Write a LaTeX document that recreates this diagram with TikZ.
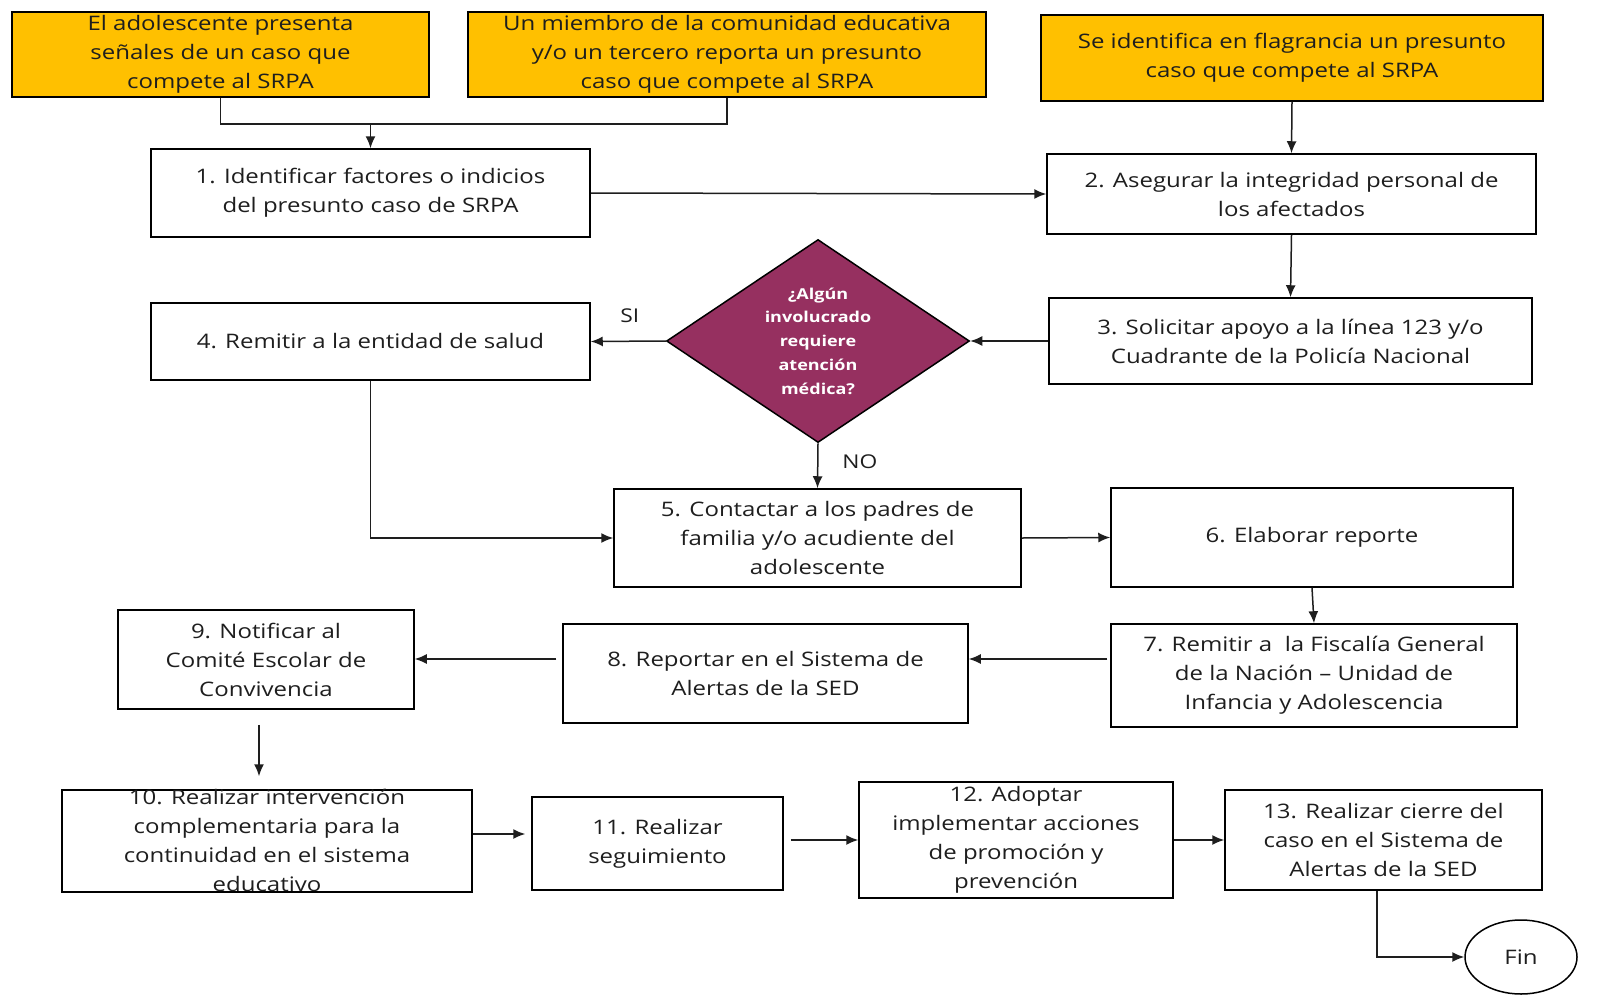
\documentclass[tikz,border=0pt]{standalone}
\usepackage{fontspec}
\setmainfont[FakeStretch=1.2]{Open Sans}
\usetikzlibrary{shapes.geometric,arrows.meta}
\definecolor{orng}{RGB}{255,192,0}
\definecolor{plum}{RGB}{150,48,96}
\definecolor{ink}{RGB}{30,30,30}
\begin{document}
\begin{tikzpicture}[x=1pt,y=-1pt,
  box/.style={draw=black, line width=1.5pt, inner sep=0pt, align=center, text=ink,
    font=\fontsize{20}{29}\selectfont},
  obox/.style={box, fill=orng},
  txt/.style={inner sep=0pt, align=center, text=ink, font=\fontsize{20}{29}\selectfont},
  lbl/.style={inner sep=0pt, text=ink, font=\fontsize{19}{22}\selectfont},
  arr/.style={draw=ink, line width=1.5pt, -{Latex[length=12pt,width=10pt]}},
  ln/.style={draw=ink, line width=1.5pt},
  dec/.style={diamond, draw=black, line width=1.5pt, fill=plum, inner sep=0pt, aspect=1.5,
    text=white, align=center, font=\bfseries\fontsize{15}{23.7}\selectfont},
  endst/.style={ellipse, draw=black, line width=1.5pt, inner sep=0pt, text=ink,
    font=\fontsize{20}{24}\selectfont}
]
\useasboundingbox (0,0) rectangle (1597,1004);
\clip (0,0) rectangle (1597,1004);
\fill[white] (0,0) rectangle (1597,1004);

% top row
\node[obox, minimum width=417pt, minimum height=85pt] (A) at (220.5,54.5)
  {El adolescente presenta\\señales de un caso que\\compete al SRPA};
\node[obox, minimum width=518pt, minimum height=85pt] (B) at (727,54.5)
  {Un miembro de la comunidad educativa\\y/o un tercero reporta un presunto\\caso que compete al SRPA};
\node[obox, minimum width=502pt, minimum height=86pt] (C) at (1292,58)
  {Se identifica en flagrancia un presunto\\caso que compete al SRPA};

\node[box, minimum width=439pt, minimum height=88pt] (b1) at (370.5,193)
  {1. Identificar factores o indicios\\del presunto caso de SRPA};
\node[box, minimum width=489pt, minimum height=80pt] (b2) at (1291.5,194)
  {2. Asegurar la integridad personal de\\los afectados};
\node[box, minimum width=483pt, minimum height=86pt] (b3) at (1290.5,341)
  {3. Solicitar apoyo a la línea 123 y/o\\Cuadrante de la Policía Nacional};
\node[dec, minimum width=303pt, minimum height=203pt] (D) at (818,341)
  {¿Algún\\involucrado\\requiere\\atención\\médica?};
\node[box, minimum width=439pt, minimum height=77pt] (b4) at (370.5,341.5)
  {4. Remitir a la entidad de salud};
\node[box, minimum width=407pt, minimum height=98pt] (b5) at (817.5,538)
  {5. Contactar a los padres de\\familia y/o acudiente del\\adolescente};
\node[box, minimum width=402pt, minimum height=99pt] (b6) at (1312,537.5)
  {6. Elaborar reporte};
\node[box, minimum width=406pt, minimum height=103pt] (b7) at (1314,675.5)
  {7. Remitir a\ \ la Fiscalía General\\de la Nación – Unidad de\\Infancia y Adolescencia};
\node[box, minimum width=405pt, minimum height=99pt] (b8) at (765.5,673.5)
  {8. Reportar en el Sistema de\\Alertas de la SED};
\node[box, minimum width=296pt, minimum height=99pt] (b9) at (266,659.5)
  {9. Notificar al\\Comité Escolar de\\Convivencia};
\node[box, minimum width=410pt, minimum height=102pt] (b10) at (267,841) {};
\node[txt] (t10) at (267,840.5)
  {10. Realizar intervención\\complementaria para la\\continuidad en el sistema\\educativo};
\node[box, minimum width=251pt, minimum height=93pt] (b11) at (657.5,843.5)
  {11. Realizar\\seguimiento};
\node[box, minimum width=314pt, minimum height=116pt] (b12) at (1016,840) {};
\node[txt] (t12) at (1016,839.5)
  {12. Adoptar\\implementar acciones\\de promoción y\\prevención};
\node[box, minimum width=317pt, minimum height=100pt] (b13) at (1383.5,840)
  {13. Realizar cierre del\\caso en el Sistema de\\Alertas de la SED};
\node[endst, minimum width=112pt, minimum height=74pt] (fin) at (1521,957) {Fin};

% helper coordinates
\coordinate (j1) at (370.5,124);
\coordinate (r78) at (0,659);
\coordinate (c9) at (259,0);
\coordinate (r1011) at (0,834);
\coordinate (r1112) at (0,840);
\coordinate (c13) at (1377,0);

% connectors
\draw[ln] (A.south) |- (B.south |- j1) -- (B.south);
\draw[arr] (j1) -- (b1.north);
\draw[arr] (C.south) -- (b2.north);
\draw[arr] (b1.east) -- (b2.west);
\draw[arr] (b2.south) -- (b3.north);
\draw[arr] (b3.west) -- (D.east);
\draw[arr] (D.west) -- node[lbl, pos=0.48, yshift=26pt] (si) {SI} (b4.east);
\draw[arr] (D.south) -- node[lbl, pos=0.4, xshift=42pt] (no) {NO} (b5.north);
\draw[arr] (b4.south) |- (b5.west);
\draw[arr] (b5.east) -- (b6.west);
\draw[arr] (b6.south) -- (b7.north);
\draw[arr, shorten <=3pt] (b7.west |- r78) -- (b8.east |- r78);
\draw[arr, shorten <=6pt] (b8.west |- r78) -- (b9.east |- r78);
\draw[arr, shorten <=15pt, shorten >=13pt] (b9.south -| c9) -- (b10.north -| c9);
\draw[arr, shorten >=6pt] (b10.east |- r1011) -- (b11.west |- r1011);
\draw[arr, shorten <=7pt] (b11.east |- r1112) -- (b12.west |- r1112);
\draw[arr] (b12.east) -- (b13.west);
\draw[arr] (b13.south -| c13) |- (fin.west);
\end{tikzpicture}
\end{document}
